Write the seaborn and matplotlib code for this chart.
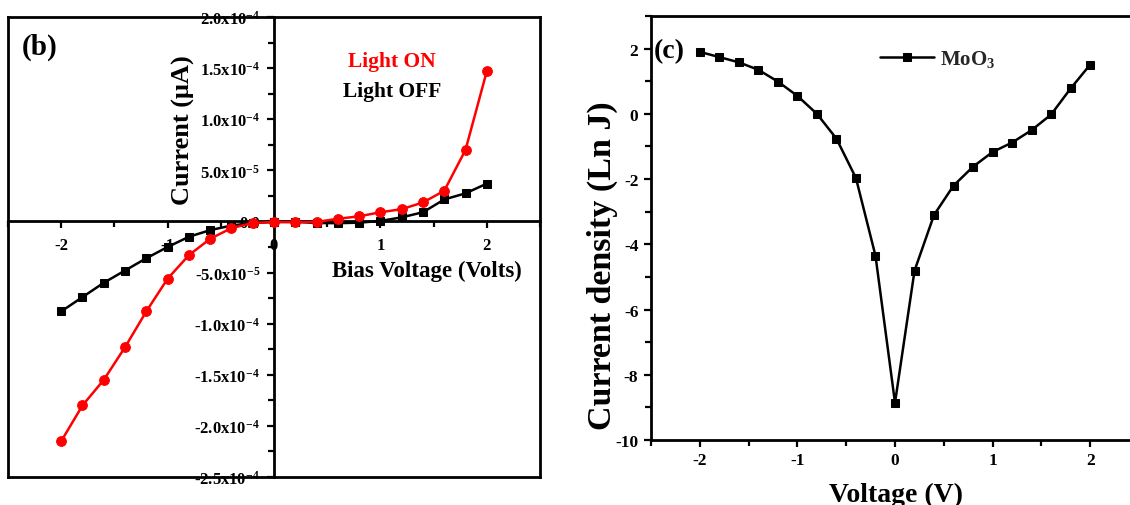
import matplotlib
matplotlib.use("Agg")
import matplotlib.pyplot as plt
import seaborn as sns
import pandas as pd
from matplotlib.ticker import FixedLocator, FixedFormatter, MultipleLocator

sns.set_theme(style="white")
plt.rcParams["font.family"] = ["Liberation Serif", "DejaVu Serif"]
plt.rcParams["font.weight"] = "bold"
plt.rcParams["mathtext.fontset"] = "custom"
plt.rcParams["mathtext.rm"] = "Liberation Serif:bold"
plt.rcParams["mathtext.bf"] = "Liberation Serif:bold"
plt.rcParams["mathtext.it"] = "Liberation Serif:bold:italic"
plt.rcParams["mathtext.default"] = "bf"
plt.rcParams["axes.unicode_minus"] = False

# ---------------- data ----------------
voltage = [-2.0, -1.8, -1.6, -1.4, -1.2, -1.0, -0.8, -0.6, -0.4, -0.2, 0.0,
           0.2, 0.4, 0.6, 0.8, 1.0, 1.2, 1.4, 1.6, 1.8, 2.0]

light_on = [-2.15e-4, -1.80e-4, -1.55e-4, -1.23e-4, -0.88e-4, -0.56e-4, -0.33e-4,
            -0.17e-4, -0.065e-4, -0.015e-4, -0.005e-4, -0.008e-4, -0.005e-4,
            0.026e-4, 0.05e-4, 0.09e-4, 0.12e-4, 0.186e-4, 0.30e-4, 0.70e-4, 1.47e-4]

light_off = [-0.88e-4, -0.74e-4, -0.60e-4, -0.48e-4, -0.36e-4, -0.25e-4, -0.15e-4,
             -0.085e-4, -0.04e-4, -0.015e-4, -0.005e-4, -0.003e-4, -0.015e-4,
             -0.017e-4, -0.012e-4, 0.005e-4, 0.04e-4, 0.09e-4, 0.215e-4, 0.275e-4, 0.37e-4]

ln_j = [1.90, 1.74, 1.58, 1.35, 0.99, 0.55, 0.0, -0.76, -1.97, -4.35, -8.86,
        -4.81, -3.10, -2.20, -1.62, -1.17, -0.88, -0.50, -0.02, 0.78, 1.51]

series_names = ["Light ON", "Light OFF"]
series_colors = ["#ff0000", "#000000"]

b_yticks = [2.0e-4, 1.5e-4, 1.0e-4, 5.0e-5, 0.0, -5.0e-5, -1.0e-4, -1.5e-4, -2.0e-4, -2.5e-4]
b_yticklabels = ["2.0x10$^{-4}$", "1.5x10$^{-4}$", "1.0x10$^{-4}$", "5.0x10$^{-5}$", "0.0",
                 "-5.0x10$^{-5}$", "-1.0x10$^{-4}$", "-1.5x10$^{-4}$", "-2.0x10$^{-4}$",
                 "-2.5x10$^{-4}$"]
b_xticks = [-2, -1, 0, 1, 2]
b_xticklabels = ["-2", "-1", "0", "1", "2"]

c_xticks = [-2, -1, 0, 1, 2]
c_xticklabels = ["-2", "-1", "0", "1", "2"]
c_yticks = [2, 0, -2, -4, -6, -8, -10]
c_yticklabels = ["2", "0", "-2", "-4", "-6", "-8", "-10"]

df_b = pd.DataFrame({"V": voltage, "on": light_on, "off": light_off})
df_c = pd.DataFrame({"V": voltage, "lnJ": ln_j})

W, H = 1130, 506
fig = plt.figure(figsize=(W / 100, H / 100), dpi=100)
fig.patch.set_facecolor("white")

def rect(l, t, r, b):
    return [l / W, 1 - b / H, (r - l) / W, (b - t) / H]

# ---------------- panel (b) ----------------
rb = rect(8, 18, 540, 478)
frame = fig.add_axes(rb)
frame.set_xticks([]); frame.set_yticks([])
for s in frame.spines.values():
    s.set_visible(True); s.set_linewidth(2.0); s.set_color("black")
frame.set_facecolor("white")

ax = fig.add_axes(rb)
ax.set_facecolor("none")
sns.lineplot(data=df_b, x="V", y="off", ax=ax, color=series_colors[1], marker="s",
             markersize=6.0, markeredgecolor=series_colors[1], linewidth=1.8,
             sort=False, errorbar=None, zorder=3)
sns.lineplot(data=df_b, x="V", y="on", ax=ax, color=series_colors[0], marker="o",
             markersize=7.0, markeredgecolor=series_colors[0], linewidth=1.8,
             sort=False, errorbar=None, zorder=4)
ax.set_xlim(-2.5, 2.5)
ax.set_ylim(-2.5e-4, 2.0e-4)
ax.spines["left"].set_position(("data", 0))
ax.spines["bottom"].set_position(("data", 0))
ax.spines["top"].set_visible(False)
ax.spines["right"].set_visible(False)
for s in ("left", "bottom"):
    ax.spines[s].set_linewidth(2.0); ax.spines[s].set_color("black")
    ax.spines[s].set_zorder(2)
ax.xaxis.set_major_locator(FixedLocator(b_xticks))
ax.xaxis.set_major_formatter(FixedFormatter(b_xticklabels))
ax.xaxis.set_minor_locator(MultipleLocator(0.5))
ax.yaxis.set_major_locator(FixedLocator(b_yticks))
ax.yaxis.set_major_formatter(FixedFormatter(b_yticklabels))
ax.yaxis.set_minor_locator(MultipleLocator(2.5e-5))
ax.tick_params(axis="both", which="major", direction="out", length=5, width=1.6,
               labelsize=12, color="black", labelcolor="black")
ax.tick_params(axis="both", which="minor", direction="out", length=4, width=1.6, color="black")
ax.tick_params(axis="x", which="both", bottom=True, pad=6)
ax.tick_params(axis="y", which="both", left=True, pad=5)
for lab in ax.get_xticklabels() + ax.get_yticklabels():
    lab.set_fontweight("bold")
ax.set_ylabel("Current (\u03bcA)", fontsize=19, fontweight="bold", color="black")
ax.yaxis.set_label_coords((183 - 8) / 532, 1 - (130 - 18) / 460)
ax.yaxis.label.set_verticalalignment("center")
ax.set_xlabel("Bias Voltage (Volts)", fontsize=16.5, fontweight="bold", color="black")
ax.xaxis.set_label_coords((426.5 - 8) / 532, 1 - (271 - 18) / 460)
ax.xaxis.label.set_verticalalignment("center")
ax.text((22 - 8) / 532, 1 - (47 - 18) / 460, "(b)", transform=ax.transAxes,
        fontsize=21, fontweight="bold", ha="left", va="center", color="black")
ax.text((348 - 8) / 532, 1 - (62 - 18) / 460, series_names[0], transform=ax.transAxes,
        fontsize=15.5, fontweight="bold", ha="left", va="center", color=series_colors[0])
ax.text((343 - 8) / 532, 1 - (92 - 18) / 460, series_names[1], transform=ax.transAxes,
        fontsize=15.5, fontweight="bold", ha="left", va="center", color=series_colors[1])

# ---------------- panel (c) ----------------
axc = fig.add_axes(rect(651, 17, 1139, 441))
axc.set_facecolor("white")
sns.lineplot(data=df_c, x="V", y="lnJ", ax=axc, color="black", marker="s",
             markersize=5.5, markeredgecolor="black", linewidth=1.8,
             sort=False, errorbar=None, label="MoO$_3$")
axc.set_xlim(-2.5, 2.5)
axc.set_ylim(-10, 3)
for s in axc.spines.values():
    s.set_visible(True); s.set_linewidth(2.0); s.set_color("black")
axc.xaxis.set_major_locator(FixedLocator(c_xticks))
axc.xaxis.set_major_formatter(FixedFormatter(c_xticklabels))
axc.xaxis.set_minor_locator(MultipleLocator(0.5))
axc.yaxis.set_major_locator(FixedLocator(c_yticks))
axc.yaxis.set_major_formatter(FixedFormatter(c_yticklabels))
axc.yaxis.set_minor_locator(MultipleLocator(1))
axc.tick_params(axis="both", which="both", direction="out", width=1.6, color="black")
axc.tick_params(axis="both", which="major", length=5, labelsize=12.5, labelcolor="black", pad=4)
axc.tick_params(axis="both", which="minor", length=4)
axc.tick_params(axis="x", which="both", bottom=True, top=False)
axc.tick_params(axis="y", which="both", left=True, right=False)
for lab in axc.get_xticklabels() + axc.get_yticklabels():
    lab.set_fontweight("bold")
axc.set_ylabel("Current density (Ln J)", fontsize=24.5, fontweight="bold", color="black")
axc.yaxis.set_label_coords((602 - 651) / 488, 1 - (266 - 17) / 424)
axc.yaxis.label.set_verticalalignment("center")
axc.set_xlabel("Voltage (V)", fontsize=20, fontweight="bold", color="black")
axc.xaxis.set_label_coords((896 - 651) / 488, 1 - (495 - 17) / 424)
axc.xaxis.label.set_verticalalignment("center")
axc.text((654 - 651) / 488, 1 - (52 - 17) / 424, "(c)", transform=axc.transAxes,
         fontsize=20, fontweight="bold", ha="left", va="center", color="black")
leg = axc.legend(loc="center left", bbox_to_anchor=((880 - 651) / 488, 1 - (60 - 17) / 424),
                 frameon=False, fontsize=15, handlelength=2.6, handletextpad=0.3,
                 borderpad=0, borderaxespad=0)
for t in leg.get_texts():
    t.set_fontweight("bold")

fig.savefig("out.png", dpi=100, facecolor="white")
